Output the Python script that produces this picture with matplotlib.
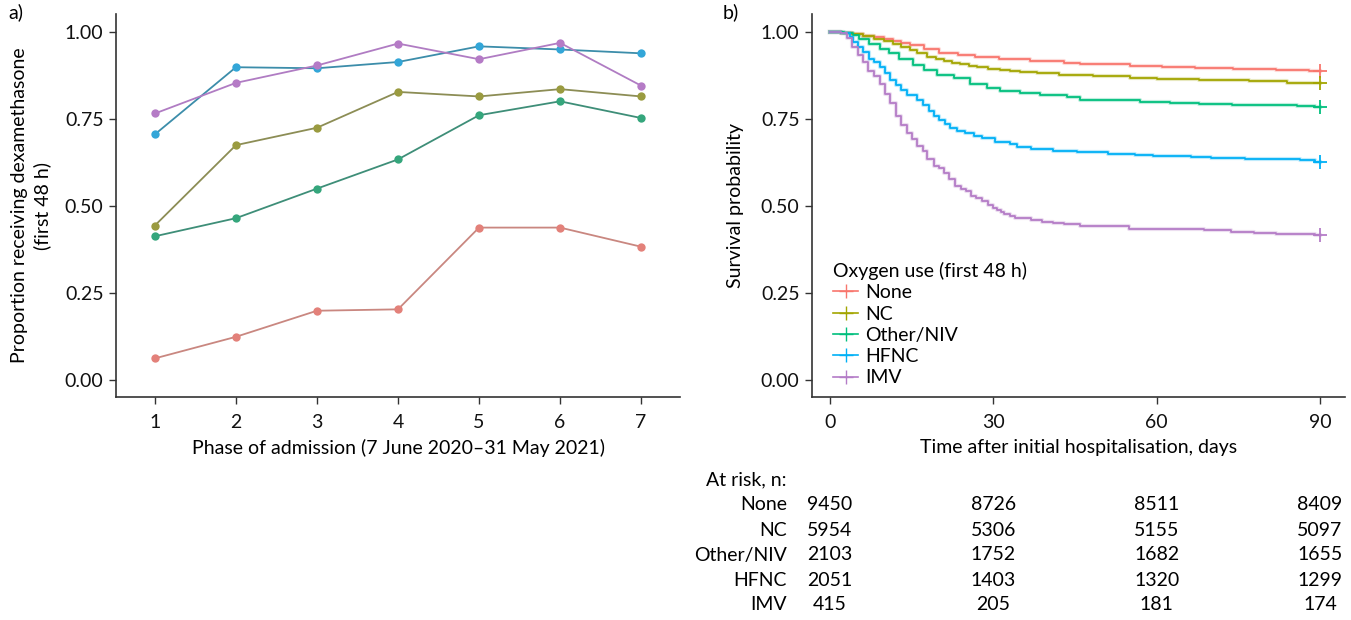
import matplotlib
matplotlib.use("Agg")
import matplotlib.pyplot as plt
from matplotlib.lines import Line2D
import matplotlib.transforms as mtransforms

plt.rcParams['font.family'] = ['Lato', 'DejaVu Sans']

# ---------------- Panel a data ----------------
phases = [1, 2, 3, 4, 5, 6, 7]
groups = ["None", "NC", "Other/NIV", "HFNC", "IMV"]
dex_none = [0.062, 0.124, 0.199, 0.203, 0.438, 0.438, 0.383]
dex_nc = [0.444, 0.675, 0.725, 0.828, 0.815, 0.836, 0.815]
dex_other = [0.413, 0.465, 0.550, 0.634, 0.761, 0.801, 0.753]
dex_hfnc = [0.706, 0.899, 0.896, 0.914, 0.959, 0.950, 0.939]
dex_imv = [0.766, 0.854, 0.904, 0.967, 0.922, 0.969, 0.846]

# ---------------- Panel b data (Kaplan-Meier steps) ----------------
km_none_t = [0, 2, 4, 6, 8, 10, 11.5, 13, 14.7, 17.2, 20, 23.5, 26.6, 31, 36.7, 42.9, 45.9, 55.1, 61, 67, 74, 82, 88, 90]
km_none_s = [1.0, 0.998, 0.995, 0.990, 0.985, 0.979, 0.975, 0.970, 0.963, 0.950, 0.939, 0.934, 0.929, 0.924, 0.917, 0.912, 0.907, 0.903, 0.900, 0.897, 0.894, 0.890, 0.888, 0.888]

km_nc_t = [0, 2, 4, 6, 8, 10, 11.5, 13, 14.7, 16, 17.9, 19.4, 20.9, 22.4, 23.9, 25.5, 27, 29, 31.2, 33, 34.9, 38, 42, 48.4, 55.1, 60, 67.7, 76.9, 84, 90]
km_nc_s = [1.0, 0.998, 0.994, 0.988, 0.981, 0.973, 0.967, 0.958, 0.948, 0.940, 0.929, 0.922, 0.917, 0.911, 0.907, 0.903, 0.900, 0.895, 0.891, 0.887, 0.884, 0.881, 0.878, 0.874, 0.869, 0.865, 0.862, 0.859, 0.855, 0.855]

km_other_t = [0, 2.5, 4.2, 5.4, 7.2, 9.1, 10.9, 12.7, 15.2, 17.2, 19.6, 22.7, 25.7, 28.8, 31.2, 34.9, 38.6, 43.5, 45.9, 57, 62.5, 67.7, 73.8, 85.7, 89, 90]
km_other_s = [1.0, 0.997, 0.991, 0.980, 0.967, 0.951, 0.939, 0.924, 0.905, 0.891, 0.876, 0.867, 0.852, 0.840, 0.831, 0.826, 0.819, 0.814, 0.806, 0.800, 0.797, 0.794, 0.790, 0.787, 0.785, 0.785]

km_hfnc_t = [0, 2, 3.6, 4.2, 5.1, 6, 7.1, 8.1, 9.1, 10.2, 11.1, 12.1, 13, 14.1, 15.9, 17, 18.1, 19.1, 20.1, 21.1, 22.1, 23.3, 24.8, 26.4, 27.9, 30.3, 31.5, 33, 34.3, 37, 41, 45.3, 51.1, 56, 59.4, 66.4, 70, 76.2, 86.3, 89, 90]
km_hfnc_s = [1.0, 0.997, 0.987, 0.972, 0.958, 0.943, 0.924, 0.915, 0.900, 0.881, 0.862, 0.848, 0.833, 0.819, 0.805, 0.790, 0.773, 0.760, 0.747, 0.735, 0.725, 0.717, 0.709, 0.701, 0.695, 0.685, 0.683, 0.677, 0.670, 0.664, 0.658, 0.655, 0.649, 0.647, 0.644, 0.641, 0.637, 0.634, 0.631, 0.627, 0.627]

km_imv_t = [0, 2, 3.1, 4, 5.1, 6, 6.9, 8, 9.1, 10.1, 11.1, 12.1, 13, 14.1, 15.1, 16, 17, 17.9, 19.1, 20.1, 20.9, 21.9, 23, 24, 25, 25.9, 26.9, 28, 29.1, 30, 30.7, 31.5, 32, 33, 34, 35.8, 36.9, 39, 41, 42.9, 46, 55, 68.7, 73.6, 77.8, 82, 89, 90]
km_imv_s = [1.0, 0.997, 0.983, 0.958, 0.934, 0.913, 0.888, 0.874, 0.850, 0.821, 0.797, 0.760, 0.733, 0.709, 0.693, 0.673, 0.658, 0.635, 0.616, 0.608, 0.594, 0.579, 0.557, 0.549, 0.544, 0.528, 0.522, 0.513, 0.503, 0.495, 0.489, 0.484, 0.477, 0.471, 0.467, 0.465, 0.460, 0.455, 0.450, 0.447, 0.443, 0.435, 0.431, 0.426, 0.422, 0.419, 0.416, 0.416]

risk_times = [0, 30, 60, 90]
risk_none = [9450, 8726, 8511, 8409]
risk_nc = [5954, 5306, 5155, 5097]
risk_other = [2103, 1752, 1682, 1655]
risk_hfnc = [2051, 1403, 1320, 1299]
risk_imv = [415, 205, 181, 174]

# ---------------- styles ----------------
pt_colors = ['#E3817A', '#9A9B40', '#35A67C', '#33A6D8', '#B57BC6']
ln_colors = ['#C98780', '#8C8D55', '#3E8E78', '#3C8DAA', '#B07CC3']
km_colors = ['#F8766D', '#A3A500', '#00BF7D', '#00B0F6', '#B47CC7']
spine_c = '#333333'
FS = 14

W, H = 1351, 620
fig = plt.figure(figsize=(W / 100, H / 100), dpi=100)

def style_axes(ax):
    for s in ['top', 'right']:
        ax.spines[s].set_visible(False)
    for s in ['left', 'bottom']:
        ax.spines[s].set_color(spine_c)
        ax.spines[s].set_linewidth(1.2)
    ax.tick_params(direction='out', length=5, width=1.0, color=spine_c,
                   labelsize=FS, labelcolor='#111111')
    ax.tick_params(axis='x', pad=7)
    ax.tick_params(axis='y', pad=4)

# Panel a
ax1 = fig.add_axes([116 / W, 1 - 397 / H, (680 - 116) / W, (397 - 14) / H])
style_axes(ax1)
dex = [dex_none, dex_nc, dex_other, dex_hfnc, dex_imv]
for vals, pc, lc in zip(dex, pt_colors, ln_colors):
    ax1.plot(phases, vals, color=lc, lw=1.3, zorder=2)
    ax1.plot(phases, vals, 'o', color=pc, ms=6, mec='none', zorder=3)
ax1.set_xlim(0.52, 7.48)
ax1.set_ylim(-0.049, 1.052)
ax1.set_xticks(phases)
ax1.set_yticks([0, 0.25, 0.5, 0.75, 1.0])
ax1.set_yticklabels(['0.00', '0.25', '0.50', '0.75', '1.00'])
ax1.set_xlabel('Phase of admission (7 June 2020\u201331 May 2021)', fontsize=FS, labelpad=6)
ax1.set_ylabel('Proportion receiving dexamethasone\n(first 48 h)', fontsize=FS,
               linespacing=1.35, labelpad=10)
fig.text(8 / W, 1 - 12 / H, 'a)', fontsize=FS, va='center', ha='left')

# Panel b
ax2 = fig.add_axes([812 / W, 1 - 397 / H, (1345 - 812) / W, (397 - 14) / H])
style_axes(ax2)
km = [(km_none_t, km_none_s), (km_nc_t, km_nc_s), (km_other_t, km_other_s),
      (km_hfnc_t, km_hfnc_s), (km_imv_t, km_imv_s)]
handles = []
for (t, s), c, g in zip(km, km_colors, groups):
    ax2.step(t, s, where='post', color=c, lw=3.0, alpha=0.25, zorder=2)
    ax2.step(t, s, where='post', color=c, lw=1.3, zorder=3)
    ax2.plot([t[-1]], [s[-1]], marker='+', color=c, ms=10, mew=1.3, zorder=4)
    handles.append(Line2D([], [], color=c, lw=1.2, marker='+', ms=10, mew=1.0))
ax2.set_xlim(-3.3, 94.6)
ax2.set_ylim(-0.049, 1.052)
ax2.set_xticks(risk_times)
ax2.set_yticks([0, 0.25, 0.5, 0.75, 1.0])
ax2.set_yticklabels(['0.00', '0.25', '0.50', '0.75', '1.00'])
ax2.set_xlabel('Time after initial hospitalisation, days', fontsize=FS, labelpad=6)
ax2.set_ylabel('Survival probability', fontsize=FS, labelpad=12)
fig.text(723 / W, 1 - 12 / H, 'b)', fontsize=FS, va='center', ha='left')

leg = ax2.legend(handles, groups, title='Oxygen use (first 48 h)', loc='upper left',
                 bbox_to_anchor=(829 / W, 1 - 258 / H), bbox_transform=fig.transFigure,
                 frameon=False, fontsize=FS, title_fontsize=FS, handlelength=1.3,
                 handletextpad=0.35, labelspacing=0.22, borderpad=0.2, borderaxespad=0)
leg._legend_box.align = 'left'

# Risk table
trans = mtransforms.blended_transform_factory(ax2.transData, fig.transFigure)
risk = [risk_none, risk_nc, risk_other, risk_hfnc, risk_imv]
fig.text(787 / W, 1 - 480 / H, 'At risk, n:', fontsize=FS, ha='right', va='center')
for i, (g, row) in enumerate(zip(groups, risk)):
    y = 1 - (505 + 25 * i) / H
    fig.text(787 / W, y, g, fontsize=FS, ha='right', va='center')
    for tt, n in zip(risk_times, row):
        fig.text(tt, y, str(n), fontsize=FS, ha='center', va='center', transform=trans)

fig.savefig('out.png', dpi=100)
